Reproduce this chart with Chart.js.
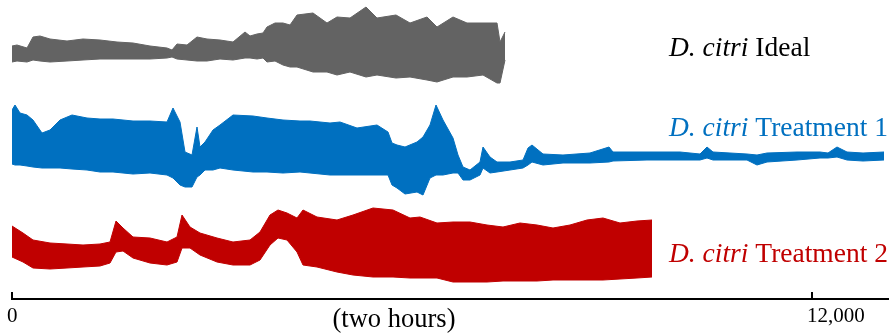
<!DOCTYPE html>
<html>
<head>
<meta charset="utf-8">
<script src="https://cdn.jsdelivr.net/npm/chart.js@4.4.1/dist/chart.umd.min.js"></script>
<style>
  html, body { margin: 0; padding: 0; background: #fff; }
</style>
</head>
<body>
<canvas id="waveChart" width="896" height="336"></canvas>
<script>
// recording time (samples) and upper / lower envelope of each trace (arbitrary units)
const idealTime = [0, 75, 225, 315, 420, 570, 825, 1065, 1320, 1575, 1815, 2070, 2325, 2400, 2475, 2625, 2775, 2925, 3120, 3315, 3495, 3570, 3675, 3765, 3825, 3945, 4065, 4170, 4275, 4515, 4725, 4875, 5070, 5310, 5475, 5760, 5970, 6225, 6375, 6615, 6825, 7065, 7275, 7320, 7395];
const idealTop = [9, 10, 7, 18, 19, 16, 14, 16, 15, 13, 12, 9, 7, 5, 11, 10, 18, 16, 15, 13, 23, 19, 21, 22, 28, 32, 32, 30, 40, 42, 32, 38, 37, 48, 37, 40, 32, 38, 28, 38, 32, 32, 32, 13, 23];
const idealBottom = [-7, -6, -7, -5, -6, -7, -6, -5, -4, -4, -4, -4, -3, -2, -4, -5, -6, -6, -4, -5, -3, -3, -4, -3, -7, -6, -10, -12, -12, -17, -17, -20, -17, -22, -20, -23, -22, -25, -27, -22, -22, -20, -28, -28, -5];

const t1Time = [0, 45, 120, 225, 315, 450, 570, 720, 900, 1125, 1320, 1515, 1815, 2070, 2325, 2415, 2520, 2595, 2700, 2775, 2820, 2895, 3015, 3120, 3315, 3615, 3825, 4065, 4320, 4470, 4770, 4920, 5175, 5475, 5640, 5700, 5775, 5895, 6075, 6165, 6270, 6360, 6465, 6615, 6690, 6765, 6870, 7020, 7065, 7170, 7275, 7470, 7665, 7740, 7800, 7965, 8265, 8670, 8955, 9015, 9525, 10020, 10320, 10425, 10515, 11025, 11175, 11325, 11775, 12120, 12240, 12375, 12525, 12765, 13080];
const t1Top = [50, 55, 47, 45, 40, 27, 30, 40, 45, 42, 41, 41, 39, 39, 38, 52, 38, 8, 5, 33, 13, 18, 30, 35, 45, 44, 42, 40, 39, 39, 37, 38, 32, 35, 28, 17, 15, 13, 18, 23, 35, 55, 40, 22, 5, -7, -10, -2, 13, 3, -2, -2, 0, 12, 15, 6, 5, 7, 13, 8, 8, 8, 6, 13, 8, 6, 5, 7, 8, 8, 7, 13, 8, 7, 8];
const t1Bottom = [-4, -5, -5, -6, -7, -8, -8, -8, -9, -10, -12, -12, -14, -13, -15, -18, -25, -27, -27, -17, -15, -10, -10, -8, -10, -12, -12, -13, -12, -13, -15, -15, -15, -15, -15, -25, -28, -34, -32, -35, -18, -15, -15, -13, -13, -20, -20, -15, -8, -13, -12, -10, -8, -5, -2, -5, -3, -3, -2, -1, 0, 0, 0, 2, 0, 0, -5, -2, 0, 2, 2, 3, 0, -1, 0];

const t2Time = [0, 165, 315, 570, 825, 1065, 1320, 1470, 1560, 1665, 1815, 2070, 2325, 2475, 2550, 2670, 2820, 3075, 3315, 3570, 3720, 3870, 3990, 4125, 4275, 4365, 4575, 4875, 5115, 5415, 5715, 5970, 6120, 6375, 6615, 6870, 7125, 7365, 7620, 7875, 8115, 8370, 8625, 8865, 9120, 9375, 9600];
const t2Top = [24, 17, 10, 7, 6, 5, 6, 8, 29, 22, 13, 12, 8, 13, 35, 23, 17, 12, 8, 10, 18, 35, 40, 37, 32, 40, 33, 30, 35, 42, 40, 32, 33, 27, 28, 28, 25, 23, 27, 25, 22, 25, 30, 32, 27, 29, 30];
const t2Bottom = [-7, -12, -18, -19, -18, -17, -16, -13, -2, -1, -8, -13, -15, -12, 2, 2, -5, -12, -15, -15, -10, 5, 12, 10, -2, -15, -17, -22, -25, -27, -27, -28, -28, -28, -32, -32, -32, -31, -31, -31, -30, -30, -30, -30, -29, -28, -27];

const genus = 'D. citri';
const traceNames = ['Ideal', 'Treatment 1', 'Treatment 2'];
const xTicks = [0, 12000];
const axisTitle = '(two hours)';

const colors = ['#636363', '#0070C0', '#C00000'];
const textColors = ['#000000', '#0070C0', '#C00000'];
const lanes = [244, 139, 49];          // vertical offset of each trace
const labelAt = [[9855, 243], [9855, 163], [9855, 37]];
const titleAt = 5730;

// two lines per trace, the space between them filled
function band(time, top, bottom, lane, color) {
    const pts = arr => arr.map((v, i) => ({ x: time[i], y: lane + v }));
    const common = {
        borderColor: color,
        backgroundColor: color,
        borderWidth: 1,
        pointRadius: 0,
        tension: 0
    };
    return [
        Object.assign({ data: pts(top), fill: '+1' }, common),
        Object.assign({ data: pts(bottom), fill: false }, common)
    ];
}

const datasets = [].concat(
    band(idealTime, idealTop, idealBottom, lanes[0], colors[0]),
    band(t1Time, t1Top, t1Bottom, lanes[1], colors[1]),
    band(t2Time, t2Top, t2Bottom, lanes[2], colors[2])
);

// trace names and axis title
const labelPlugin = {
    id: 'traceLabels',
    afterDatasetsDraw(chart) {
        const { ctx, scales: { x, y } } = chart;
        ctx.save();
        ctx.textBaseline = 'alphabetic';
        ctx.textAlign = 'left';
        traceNames.forEach((name, i) => {
            const px = x.getPixelForValue(labelAt[i][0]);
            const py = y.getPixelForValue(labelAt[i][1]);
            const lead = genus + ' ';
            ctx.fillStyle = textColors[i];
            ctx.font = 'italic 27.5px "Liberation Serif"';
            ctx.fillText(lead, px, py);
            const w = ctx.measureText(lead).width;
            ctx.font = '27.5px "Liberation Serif"';
            ctx.fillText(name, px + w, py);
        });
        ctx.fillStyle = '#000';
        ctx.font = '26.5px "Liberation Serif"';
        ctx.textAlign = 'center';
        ctx.fillText(axisTitle, x.getPixelForValue(titleAt), x.top + 28);
        ctx.restore();
    }
};

function createGraph() {
    const ctx = document.getElementById('waveChart').getContext('2d');
    new Chart(ctx, {
        type: 'line',
        data: { datasets: datasets },
        plugins: [labelPlugin],
        options: {
            responsive: false,
            animation: false,
            layout: { padding: { left: 12, right: 8, top: 0, bottom: 0 } },
            scales: {
                x: {
                    type: 'linear',
                    min: 0,
                    max: 13140,
                    afterBuildTicks: scale => {
                        scale.ticks = xTicks.map(v => ({ value: v }));
                    },
                    afterFit: scale => { scale.height = 37; },
                    border: { display: true, color: '#000', width: 2 },
                    grid: {
                        drawOnChartArea: false,
                        color: '#000',
                        lineWidth: 2,
                        tickLength: -7 // ticks point up
                    },
                    ticks: {
                        autoSkip: false,
                        maxRotation: 0,
                        align: 'start',
                        labelOffset: -5,
                        padding: 12,
                        color: '#000',
                        font: { family: 'Liberation Serif', size: 21 }
                    }
                },
                y: {
                    display: false,
                    min: 0,
                    max: 299
                }
            },
            plugins: {
                legend: { display: false },
                tooltip: { enabled: false }
            }
        }
    });
}

window.onload = function() {
    createGraph();
};
</script>
</body>
</html>
